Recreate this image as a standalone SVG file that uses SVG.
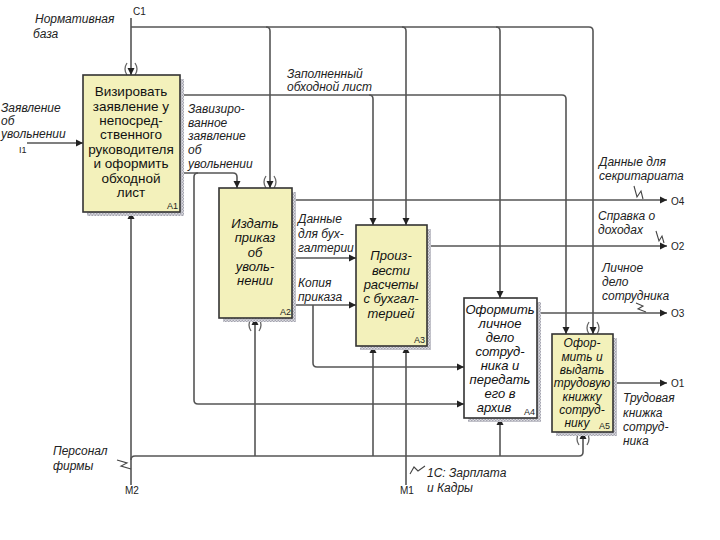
<svg xmlns="http://www.w3.org/2000/svg" width="720" height="540" viewBox="0 0 720 540">
<defs>
<pattern id="hatch" width="3" height="3" patternUnits="userSpaceOnUse">
<rect width="3" height="3" fill="#dcdce0"/>
<rect width="1.5" height="1.5" fill="#a4a4b0"/>
<rect x="1.5" y="1.5" width="1.5" height="1.5" fill="#a4a4b0"/>
</pattern>
<marker id="ah" markerWidth="8" markerHeight="8" refX="7" refY="4" orient="auto" markerUnits="userSpaceOnUse">
<path d="M0,0.5 L7,4 L0,7.5 Z" fill="#222"/>
</marker>
</defs>
<style>
.box{fill:#f3f1bb;stroke:#333;stroke-width:1.6}
.wbox{fill:#ffffff;stroke:#333;stroke-width:1.6}
.sh{fill:url(#hatch)}
.ln{fill:none;stroke:#555;stroke-width:1.6}
.ar{fill:none;stroke:#555;stroke-width:1.6;marker-end:url(#ah)}
.tn{fill:none;stroke:#666;stroke-width:1.3}
.sq{fill:none;stroke:#444;stroke-width:1.1}
.bt{font-family:"Liberation Sans",Arial,sans-serif;font-size:13.5px;fill:#111;text-anchor:middle}
.bi{font-family:"Liberation Sans",Arial,sans-serif;font-size:13px;font-style:italic;fill:#111;text-anchor:middle}
.b5{font-family:"Liberation Sans",Arial,sans-serif;font-size:12px;font-style:italic;fill:#111;text-anchor:middle}
.lb{font-family:"Liberation Sans",Arial,sans-serif;font-size:12px;font-style:italic;fill:#222}
.id{font-family:"Liberation Sans",Arial,sans-serif;font-size:9px;fill:#222}
.pt{font-family:"Liberation Sans",Arial,sans-serif;font-size:10px;fill:#222}
</style>

<g id="connectors">
<path class="ar" d="M131,18 V75"/>
<path class="ln" d="M131,27 H589 Q593,27 593,31"/>
<path class="ar" d="M593,31 V334"/>
<path class="ar" d="M266,27 Q270,27 270,31 V188"/>
<path class="ar" d="M402,27 Q406,27 406,31 V225"/>
<path class="ar" d="M496,27 Q500,27 500,31 V298"/>
<path class="ar" d="M27,143 H83"/>
<path class="ar" d="M180,95 H562 Q566,95 566,99 V334"/>
<path class="ar" d="M369,95 Q373,95 373,99 V225"/>
<path class="ar" d="M180,173 H233 Q237,173 237,177 V188"/>
<path class="ar" d="M198,173 Q194,173 194,177 V400 Q194,404 198,404 H464"/>
<path class="ar" d="M131,485 V212"/>
<path class="ln" d="M131,460 Q131,456 135,456 H579 Q583,456 583,452"/>
<path class="ar" d="M583,452 V432"/>
<path class="ar" d="M255,456 V318"/>
<path class="ar" d="M373,456 V346"/>
<path class="ar" d="M500,456 V418"/>
<path class="ar" d="M406,485 V346"/>
<path class="ar" d="M292,200 H667"/>
<path class="ar" d="M292,258 H356"/>
<path class="ar" d="M292,305 H356"/>
<path class="ar" d="M313,305 V363 Q313,367 317,367 H464"/>
<path class="ar" d="M427,246 H667"/>
<path class="ar" d="M537,313 H667"/>
<path class="ar" d="M613,383 H667"/>
<path class="tn" d="M127,63 Q123,69 127,75 M135,63 Q139,69 135,75"/>
<path class="tn" d="M266,176 Q262,182 266,188 M274,176 Q278,182 274,188"/>
<path class="tn" d="M251,319 Q247,325 251,331 M259,319 Q263,325 259,331"/>
<path class="tn" d="M589,322 Q585,328 589,334 M597,322 Q601,328 597,334"/>
<path class="tn" d="M579,433 Q575,439 579,445 M587,433 Q591,439 587,445"/>
<path class="sq" d="M634,186 L637,197 L641,191 L643,199"/>
<path class="sq" d="M656,231 L659,241 L662,236 L664,243"/>
<path class="sq" d="M636,303 L643,306 L638,309 L646,312"/>
<path class="sq" d="M117,460 L127,463 L121,466 L131,469"/>
<path class="sq" d="M410,474 L414,467 L418,471 L425,466"/>
</g>

<g id="A1">
<rect class="sh" x="87" y="79" width="97" height="137"/>
<rect class="box" x="83" y="75" width="97" height="137"/>
<text class="bt" x="131" y="96">Визировать</text>
<text class="bt" x="131" y="110.5">заявление у</text>
<text class="bt" x="131" y="125">непосред-</text>
<text class="bt" x="131" y="139">ственного</text>
<text class="bt" x="131" y="154">руководителя</text>
<text class="bt" x="131" y="168">и оформить</text>
<text class="bt" x="131" y="183">обходной</text>
<text class="bt" x="131" y="197">лист</text>
<text class="id" x="167" y="209">A1</text>
</g>

<g id="A2">
<rect class="sh" x="223" y="192" width="73" height="130"/>
<rect class="box" x="219" y="188" width="73" height="130"/>
<text class="bi" x="255" y="228">Издать</text>
<text class="bi" x="255" y="242">приказ</text>
<text class="bi" x="255" y="257">об</text>
<text class="bi" x="255" y="271">уволь-</text>
<text class="bi" x="255" y="285">нении</text>
<text class="id" x="280" y="315">A2</text>
</g>

<g id="A3">
<rect class="sh" x="360" y="229" width="71" height="121"/>
<rect class="box" x="356" y="225" width="71" height="121"/>
<text class="bi" x="391" y="260">Произ-</text>
<text class="bi" x="391" y="275">вести</text>
<text class="bi" x="391" y="289">расчеты</text>
<text class="bi" x="391" y="303">с бухгал-</text>
<text class="bi" x="391" y="318">терией</text>
<text class="id" x="414" y="343">A3</text>
</g>

<g id="A4">
<rect class="sh" x="468" y="302" width="73" height="120"/>
<rect class="wbox" x="464" y="298" width="73" height="120"/>
<text class="bi" x="500" y="314">Оформить</text>
<text class="bi" x="500" y="328">личное</text>
<text class="bi" x="500" y="342">дело</text>
<text class="bi" x="500" y="356">сотруд-</text>
<text class="bi" x="500" y="370">ника и</text>
<text class="bi" x="500" y="384">передать</text>
<text class="bi" x="500" y="398">его в</text>
<text class="bi" x="494" y="412">архив</text>
<text class="id" x="524" y="415">A4</text>
</g>

<g id="A5">
<rect class="sh" x="556" y="338" width="61" height="98"/>
<rect class="box" x="552" y="334" width="61" height="98"/>
<text class="b5" x="582" y="347">Офор-</text>
<text class="b5" x="582" y="361">мить и</text>
<text class="b5" x="582" y="374">выдать</text>
<text class="b5" x="582" y="387">трудовую</text>
<text class="b5" x="582" y="401">книжку</text>
<text class="b5" x="582" y="414">сотруд-</text>
<text class="b5" x="577" y="427">нику</text>
<text class="id" x="599" y="429">A5</text>
</g>

<g id="labels">
<text class="lb" x="35" y="23">Нормативная</text>
<text class="lb" x="33" y="38">база</text>
<text class="pt" x="133" y="15">C1</text>
<text class="lb" x="1" y="112">Заявление</text>
<text class="lb" x="1" y="125">об</text>
<text class="lb" x="1" y="138">увольнении</text>
<text class="id" x="19" y="153">I1</text>
<text class="lb" x="188" y="113">Завизиро-</text>
<text class="lb" x="188" y="127">ванное</text>
<text class="lb" x="188" y="140">заявление</text>
<text class="lb" x="188" y="154">об</text>
<text class="lb" x="188" y="168">увольнении</text>
<text class="lb" x="287" y="78">Заполненный</text>
<text class="lb" x="287" y="91">обходной лист</text>
<text class="lb" x="298" y="223">Данные</text>
<text class="lb" x="298" y="238">для бух-</text>
<text class="lb" x="298" y="252">галтерии</text>
<text class="lb" x="298" y="287">Копия</text>
<text class="lb" x="298" y="301">приказа</text>
<text class="lb" x="599" y="166">Данные для</text>
<text class="lb" x="599" y="180">секритариата</text>
<text class="pt" x="671" y="205">O4</text>
<text class="lb" x="598" y="220">Справка о</text>
<text class="lb" x="598" y="234">доходах</text>
<text class="pt" x="671" y="250">O2</text>
<text class="lb" x="602" y="272">Личное</text>
<text class="lb" x="602" y="286">дело</text>
<text class="lb" x="602" y="300">сотрудника</text>
<text class="pt" x="671" y="317">O3</text>
<text class="pt" x="671" y="387">O1</text>
<text class="lb" x="623" y="402">Трудовая</text>
<text class="lb" x="623" y="417">книжка</text>
<text class="lb" x="623" y="431">сотруд-</text>
<text class="lb" x="623" y="445">ника</text>
<text class="lb" x="53" y="455">Персонал</text>
<text class="lb" x="53" y="470">фирмы</text>
<text class="pt" x="125" y="494">M2</text>
<text class="lb" x="427" y="477">1С: Зарплата</text>
<text class="lb" x="427" y="492">и Кадры</text>
<text class="pt" x="400" y="494">M1</text>
</g>
</svg>
